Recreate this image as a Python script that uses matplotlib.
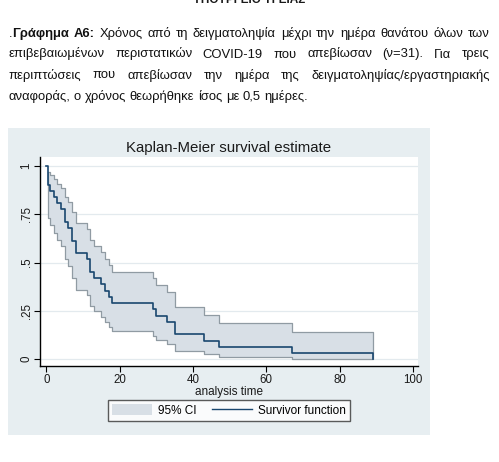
import matplotlib
matplotlib.use("Agg")
import matplotlib.pyplot as plt
from matplotlib.patches import Rectangle, Patch
from matplotlib.lines import Line2D

# Kaplan-Meier steps (n=31, all deaths)
times = [0, 0.5, 1, 2, 3, 4, 5, 6, 7, 8, 11, 12, 13, 15, 16, 17, 18,
         29, 30, 33, 35, 43, 47, 67, 89]
surv = [1.0, 0.9032, 0.8710, 0.8387, 0.8065, 0.7742, 0.7097, 0.6774,
        0.6129, 0.5484, 0.5161, 0.4516, 0.4194, 0.3871, 0.3548, 0.3226,
        0.2903, 0.2581, 0.2258, 0.1935, 0.1290, 0.0968, 0.0645, 0.0323, 0.0]

# 95% CI band (starts at the first event, ends at the last one)
ci_times = [0.5, 1, 2, 3, 4, 5, 6, 7, 8, 11, 12, 13, 15, 16, 17, 18,
            29, 30, 33, 35, 43, 47, 67, 89]
ci_lower = [0.729, 0.692, 0.655, 0.619, 0.584, 0.516, 0.484, 0.420,
            0.360, 0.331, 0.274, 0.247, 0.220, 0.194, 0.169, 0.145,
            0.122, 0.100, 0.079, 0.041, 0.025, 0.011, 0.002, 0.002]
ci_upper = [0.968, 0.950, 0.930, 0.908, 0.885, 0.837, 0.812, 0.759,
            0.703, 0.674, 0.614, 0.583, 0.552, 0.519, 0.486, 0.453,
            0.418, 0.383, 0.346, 0.270, 0.229, 0.186, 0.141, 0.141]

xticks = [0, 20, 40, 60, 80, 100]
yticks = [0, 0.25, 0.5, 0.75, 1]
ytick_labels = ["0", ".25", ".5", ".75", "1"]

caption = [
    [[(".", "normal"), ("Γράφημα", "bold")], [("Α6:", "bold")],
     "Χρόνος", "από", "τη", "δειγματοληψία", "μέχρι", "την", "ημέρα",
     "θανάτου", "όλων", "των"],
    ["επιβεβαιωμένων", "περιστατικών", "COVID-19", "που", "απεβίωσαν",
     "(ν=31).", "Για", "τρεις"],
    ["περιπτώσεις", "που", "απεβίωσαν", "την", "ημέρα", "της",
     "δειγματοληψίας/εργαστηριακής"],
    ["αναφοράς,", "ο", "χρόνος", "θεωρήθηκε", "ίσος", "με", "0,5", "ημέρες."],
]

W, H = 499, 462
FS = 9.4
X0, X1 = 8.5, 489.5
plt.rcParams['font.family'] = ['Liberation Sans', 'DejaVu Sans']
fig = plt.figure(figsize=(W / 100, H / 100), dpi=100)
fig.patch.set_facecolor("white")
renderer = fig.canvas.get_renderer()


def fx(px):
    return px / W


def fy(py):
    return 1 - py / H


def width_of(s, weight="normal"):
    t = fig.text(0, 0, s, fontsize=FS, fontweight=weight)
    w = t.get_window_extent(renderer).width
    t.remove()
    return w


def put_line(words, y, justify):
    segs_list = []
    widths = []
    for w in words:
        segs = [(w, "normal")] if isinstance(w, str) else w
        seg_w = [width_of(s, weight) for s, weight in segs]
        segs_list.append(list(zip(segs, seg_w)))
        widths.append(sum(seg_w))
    if justify:
        gap = (X1 - X0 - sum(widths)) / (len(words) - 1)
    else:
        gap = width_of("a a") - width_of("aa")
    x = X0
    for segs, tw in zip(segs_list, widths):
        xx = x
        for (s, weight), w in segs:
            fig.text(fx(xx), fy(y), s, fontsize=FS, fontweight=weight,
                     va="baseline", ha="left", color="#111111")
            xx += w
        x += tw + gap


# header cut off at the top of the page
fig.text(fx(249), fy(0), "ΥΠΟΥΡΓΕΙΟ ΥΓΕΙΑΣ", fontsize=8.5, fontweight="bold",
         ha="center", va="center", color="#1a1a1a")

line_base = [37, 57.5, 78.5, 99.5]
for i, words in enumerate(caption):
    put_line(words, line_base[i], i < 3)

# Stata graph region
fig.patches.append(Rectangle((fx(8), fy(435)), fx(430) - fx(8), fy(128) - fy(435),
                             transform=fig.transFigure, facecolor="#e7eef1",
                             edgecolor="none", zorder=0))

ax = fig.add_axes([fx(39.5), fy(366), fx(418) - fx(39.5), fy(157.5) - fy(366)])
ax.set_facecolor("white")
ax.set_zorder(1)

ax.fill_between(ci_times, ci_lower, ci_upper, step="post", facecolor="#d8dfe6",
                edgecolor="#909ba3", linewidth=0.9, zorder=2)
ax.step(times, surv, where="post", color="#1a476f", linewidth=1.2, zorder=3)

ax.set_xlim(-1.85, 101.4)
ax.set_ylim(-0.035, 1.043)
ax.set_xticks(xticks)
ax.set_yticks(yticks)
ax.set_yticklabels(ytick_labels, rotation=90, va="center")
ax.tick_params(axis="both", labelsize=8.3, length=4, width=0.8, color="black",
               labelcolor="#1a1a1a")
ax.tick_params(axis="x", pad=1.5)
ax.tick_params(axis="y", pad=1)
ax.grid(axis="y", color="#e3eaee", linewidth=0.9, zorder=0)
ax.set_axisbelow(True)

for side in ["top", "right"]:
    ax.spines[side].set_visible(False)
for side in ["left", "bottom"]:
    ax.spines[side].set_linewidth(1.0)
    ax.spines[side].set_color("black")

ax.set_xlabel("analysis time", fontsize=8.5, color="#1a1a1a", labelpad=0)

fig.text(fx(229), fy(148), "Kaplan-Meier survival estimate", fontsize=10.8,
         ha="center", va="center", color="#1a1a1a")

handles = [Patch(facecolor="#d8dfe6", edgecolor="none"),
           Line2D([], [], color="#1a476f", linewidth=1.0)]
leg = fig.legend(handles, ["95% CI", "Survivor function"], loc="center",
                 bbox_to_anchor=(fx(229), fy(410.5)), ncol=2, fontsize=8.5,
                 frameon=True, fancybox=False, handlelength=3.4,
                 handleheight=1.0, columnspacing=1.3, borderpad=0.35,
                 handletextpad=0.5, borderaxespad=0)
leg.get_frame().set_edgecolor("#333333")
leg.get_frame().set_linewidth(1.0)
leg.get_frame().set_facecolor("white")

fig.savefig("out.png", dpi=100)
